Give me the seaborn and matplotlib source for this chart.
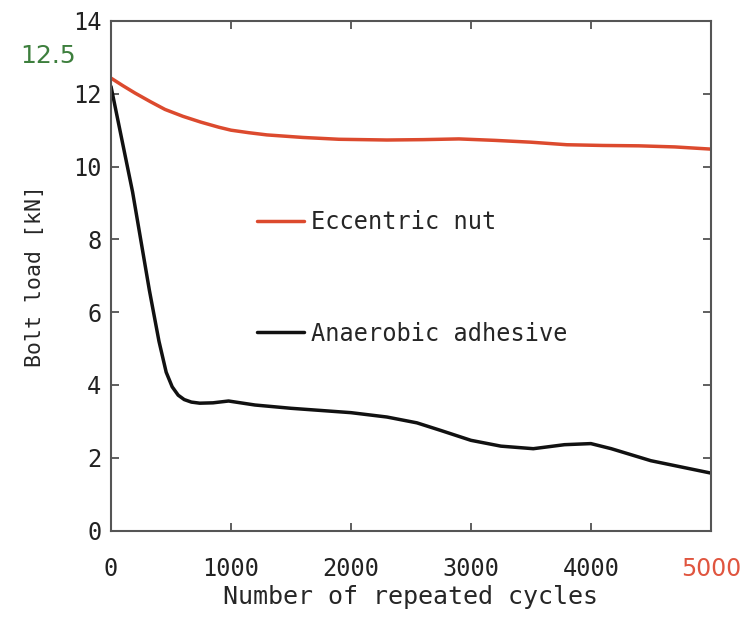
import matplotlib
matplotlib.use("Agg")
import matplotlib.pyplot as plt
import seaborn as sns
import pandas as pd

nut_cycles = [0, 100, 200, 330, 450, 600, 750, 900, 1000, 1150, 1300, 1600, 1900, 2300, 2600, 2900, 3200, 3500, 3800, 4100, 4400, 4700, 5000]
nut_load = [12.43, 12.22, 12.02, 11.78, 11.57, 11.38, 11.22, 11.08, 11.0, 10.93, 10.87, 10.8, 10.75, 10.73, 10.74, 10.76, 10.72, 10.67, 10.6, 10.58, 10.57, 10.54, 10.48]

adh_cycles = [0, 180, 320, 400, 460, 510, 560, 610, 670, 740, 850, 980, 1200, 1500, 2000, 2300, 2550, 2750, 3000, 3250, 3520, 3780, 4000, 4170, 4500, 5000]
adh_load = [12.2, 9.3, 6.6, 5.2, 4.35, 3.95, 3.72, 3.6, 3.53, 3.5, 3.51, 3.56, 3.45, 3.36, 3.24, 3.12, 2.96, 2.75, 2.48, 2.32, 2.25, 2.36, 2.39, 2.25, 1.92, 1.58]

series_names = ["Eccentric nut", "Anaerobic adhesive"]
series_colors = ["#dc4a2e", "#111111"]

x_ticks = [0, 1000, 2000, 3000, 4000, 5000]
y_ticks = [0, 2, 4, 6, 8, 10, 12, 14]

df = pd.concat([
    pd.DataFrame({"cycles": nut_cycles, "load": nut_load, "series": series_names[0]}),
    pd.DataFrame({"cycles": adh_cycles, "load": adh_load, "series": series_names[1]}),
])

sns.set_style("ticks")
plt.rcParams["font.family"] = ["DejaVu Sans Mono"]

fig = plt.figure(figsize=(7.42, 6.26), dpi=100)
ax = fig.add_axes([0.1496, 0.1524, 0.8084, 0.8141])

sns.lineplot(data=df, x="cycles", y="load", hue="series", palette=series_colors,
             hue_order=series_names, linewidth=2.5, ax=ax, sort=False)

ax.set_xlim(0, 5000)
ax.set_ylim(0, 14)
ax.set_xticks(x_ticks)
ax.set_yticks(y_ticks)
ax.tick_params(direction="in", length=6, width=1.2, colors="#444444",
               top=True, right=True, labelsize=17, labelcolor="#222222")
ax.tick_params(axis="x", pad=19)
ax.tick_params(axis="y", pad=7)
for s in ax.spines.values():
    s.set_color("#555555")
    s.set_linewidth(1.5)

# last x label is red, other font
lbl = ax.get_xticklabels()
lbl[-1].set_color("#e0553f")
lbl[-1].set_fontfamily("DejaVu Sans")
lbl[-1].set_fontsize(17)

ax.set_xlabel("Number of repeated cycles", fontsize=18, labelpad=3)
ax.set_ylabel("Bolt load [kN]", fontsize=15.5, labelpad=20)

# green 12.5 label on the left
ax.text(-0.105, 13.05, "12.5", color="#3d7f3d", fontsize=18, family="DejaVu Sans",
        transform=ax.get_yaxis_transform(), ha="center", va="center")

leg = ax.legend(loc="upper left", bbox_to_anchor=(0.208, 0.670), frameon=False,
                prop={"family": "DejaVu Sans Mono", "size": 17},
                labelspacing=3.7, handlelength=2.0, handletextpad=0.3)
for h in leg.get_lines():
    h.set_linewidth(2.5)

fig.savefig("out.png", dpi=100)
